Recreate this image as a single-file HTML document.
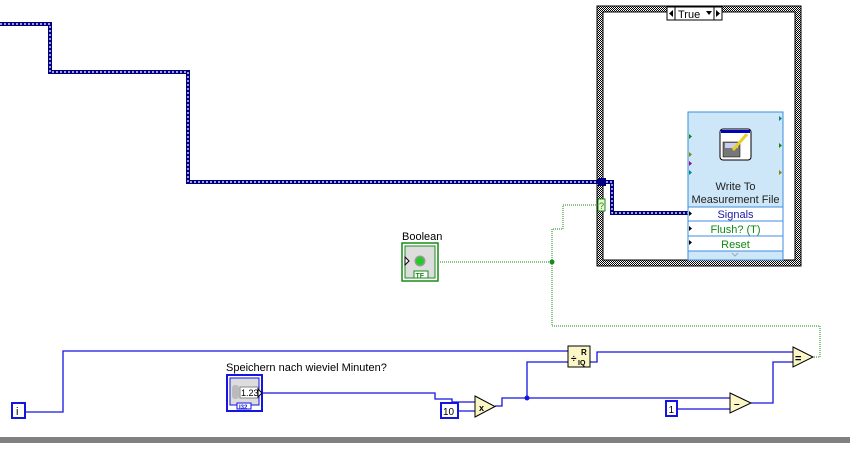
<!DOCTYPE html>
<html><head><meta charset="utf-8"><style>
html,body{margin:0;padding:0;background:#fff;width:850px;height:453px;overflow:hidden}
svg{display:block;font-family:"Liberation Sans",sans-serif}
</style></head><body>
<svg width="850" height="453" viewBox="0 0 850 453" xmlns="http://www.w3.org/2000/svg">
<defs>
<pattern id="hatch" width="2" height="2" patternUnits="userSpaceOnUse">
<rect width="2" height="2" fill="#fff"/><rect width="1" height="1" fill="#000"/><rect x="1" y="1" width="1" height="1" fill="#000"/>
</pattern>
</defs>
<!-- case structure -->
<rect x="597" y="6" width="204" height="260" fill="url(#hatch)" stroke="#000" stroke-width="1"/>
<rect x="603" y="12" width="192" height="248" fill="#fff" stroke="#000" stroke-width="1"/>
<rect x="667" y="7" width="55" height="13" fill="#fff" stroke="#000"/>
<line x1="675" y1="7" x2="675" y2="20" stroke="#000"/><line x1="714" y1="7" x2="714" y2="20" stroke="#000"/>
<polygon points="669,13.5 673,10 673,17" fill="#000"/>
<polygon points="720,13.5 716,10 716,17" fill="#000"/>
<polygon points="706,11 712,11 709,15" fill="#000"/>
<text x="678" y="18" font-size="11">True</text>
<!-- cluster wire -->
<g fill="none" stroke-linejoin="miter">
<path d="M0,24 H50 V72 H188 V182 H602 M602,182 H612 V213 H688" stroke="#000080" stroke-width="4"/>
<path d="M0,24 H50 V72 H188 V182 H602 M602,182 H612 V213 H688" stroke="#fff" stroke-width="1.2" stroke-dasharray="2,2"/>
</g>
<rect x="598" y="178" width="8" height="8" fill="#000080"/>
<!-- green dotted boolean wire -->
<path d="M440,262 H552 M552,262 V229 H563 V205 H598 M552,262 V326 H820 V357 H813" fill="none" stroke="#1a8a1a" stroke-width="1" stroke-dasharray="1,1"/>
<circle cx="552" cy="262" r="2.5" fill="#1a8a1a"/>
<rect x="598" y="199" width="7" height="12" fill="#eaf8d0" stroke="#1a8a1a"/>
<text x="599" y="209" font-size="9" fill="#1a8a1a">?</text>
<!-- write node -->
<rect x="688" y="112" width="95" height="148" fill="#cde6f8" stroke="#3d8ee0"/>
<line x1="688" y1="207" x2="783" y2="207" stroke="#3d8ee0"/>
<line x1="688" y1="221" x2="783" y2="221" stroke="#3d8ee0"/>
<line x1="688" y1="236" x2="783" y2="236" stroke="#3d8ee0"/>
<line x1="688" y1="251" x2="783" y2="251" stroke="#3d8ee0"/>
<rect x="688" y="207" width="95" height="44" fill="#fff" stroke="#3d8ee0"/>
<line x1="688" y1="221" x2="783" y2="221" stroke="#3d8ee0"/>
<line x1="688" y1="236" x2="783" y2="236" stroke="#3d8ee0"/>
<rect x="720" y="129" width="31" height="31" rx="3" fill="#fff" stroke="#000"/>
<rect x="721" y="130" width="29" height="3" fill="#0000c0"/>
<rect x="723" y="142" width="17" height="15" fill="#777" stroke="#000" stroke-width=".5"/>
<rect x="725" y="143" width="13" height="5" fill="#cce"/>
<line x1="733" y1="150" x2="747" y2="134" stroke="#e8d020" stroke-width="3"/>
<text x="735.5" y="190" font-size="11" text-anchor="middle" fill="#222">Write To</text>
<text x="735.5" y="203" font-size="11" text-anchor="middle" fill="#222">Measurement File</text>
<text x="735.5" y="218" font-size="11" text-anchor="middle" fill="#1a1aa0">Signals</text>
<text x="735.5" y="233" font-size="11" text-anchor="middle" fill="#118811">Flush? (T)</text>
<text x="735.5" y="248" font-size="11" text-anchor="middle" fill="#118811">Reset</text>
<polyline points="732,253 735,256 738,253" fill="none" stroke="#9ab"/>
<g>
<polygon points="689,211 692,213.5 689,216" fill="#000"/>
<polygon points="689,226 692,228.5 689,231" fill="#000"/>
<polygon points="689,240 692,242.5 689,245" fill="#000"/>
<polygon points="689,134 692,136.5 689,139" fill="#118811"/>
<polygon points="689,152 692,154.5 689,157" fill="#888800"/>
<polygon points="689,161 692,163.5 689,166" fill="#a000a0"/>
<polygon points="689,170 692,172.5 689,175" fill="#008888"/>
<polygon points="779,116 782,118.5 779,121" fill="#008888"/>
<polygon points="779,143 782,145.5 779,148" fill="#118811"/>
<polygon points="779,170 782,172.5 779,175" fill="#888800"/>
</g>
<!-- Boolean -->
<text x="402" y="240" font-size="11">Boolean</text>
<rect x="402" y="243" width="36" height="38" fill="#fff" stroke="#1a8a1a" stroke-width="1.5"/>
<rect x="405" y="246" width="30" height="32" fill="#ddd" stroke="#1a8a1a"/>
<circle cx="420" cy="261" r="5.5" fill="#999"/><circle cx="420" cy="261" r="4" fill="#22cc22"/>
<polygon points="405,257 409,261 405,265" fill="#fff" stroke="#000"/>
<rect x="414" y="271" width="14" height="7" fill="#fff" stroke="#1a8a1a"/>
<text x="415.5" y="278" font-size="7" fill="#1a8a1a" font-weight="bold">TF</text>
<!-- blue wires -->
<g fill="none" stroke="#1515e0" stroke-width="1.3">
<path d="M26,412 H63 V351 H568"/>
<path d="M262,393 H435 V399 H452 V402 H475"/>
<path d="M458,411 H475"/>
<path d="M495,406 H502 V398 H730"/>
<path d="M527,398 V362 H568"/>
<path d="M590,362 H597 V352 H793"/>
<path d="M677,409 H730"/>
<path d="M751,403 H773 V362 H793"/>
</g>
<circle cx="527" cy="398" r="2.5" fill="#1515e0"/>
<!-- i terminal -->
<rect x="12" y="403" width="13" height="15" fill="#fff" stroke="#1515e0" stroke-width="2"/>
<text x="16" y="415" font-size="11" fill="#000">i</text>
<!-- numeric control -->
<text x="226" y="371" font-size="11">Speichern nach wieviel Minuten?</text>
<rect x="227" y="375" width="35" height="36" fill="#fff" stroke="#1515e0" stroke-width="2"/>
<rect x="230" y="378" width="29" height="27" fill="#ddd" stroke="#1515e0"/>
<rect x="232" y="385" width="7" height="14" rx="3" fill="#bbb"/>
<rect x="240" y="387" width="18" height="11" fill="#fff" stroke="#888"/>
<text x="241" y="396" font-size="9">1.23</text>
<polygon points="258,389 262,393 258,397" fill="#fff" stroke="#000"/>
<rect x="237" y="403" width="14" height="6" fill="#fff" stroke="#1515e0"/>
<text x="239" y="409" font-size="6" fill="#1515e0" font-weight="bold">I32</text>
<!-- constants -->
<rect x="441" y="403" width="17" height="15" fill="#fff" stroke="#1515e0" stroke-width="2"/>
<text x="443" y="415" font-size="10">10</text>
<rect x="666" y="401" width="11" height="15" fill="#fff" stroke="#1515e0" stroke-width="2"/>
<text x="668.5" y="413" font-size="10">1</text>
<!-- primitives -->
<polygon points="475,396 495,406.5 475,417" fill="#fbf6c6" stroke="#000"/>
<text x="479" y="411" font-size="9" font-weight="bold">x</text>
<polygon points="730,393 751,403 730,413" fill="#fbf6c6" stroke="#000"/>
<text x="734" y="407" font-size="10" font-weight="bold">–</text>
<polygon points="793,347 813,357 793,367" fill="#fbf6c6" stroke="#000"/>
<text x="795" y="362" font-size="11" font-weight="bold">=</text>
<rect x="568" y="346" width="22" height="21" fill="#fbf6c6" stroke="#000"/>
<text x="571" y="362" font-size="10" font-weight="bold">÷</text>
<text x="581" y="355" font-size="8" font-weight="bold">R</text>
<text x="578" y="365" font-size="7" font-weight="bold">IQ</text>
<!-- bottom bar -->
<rect x="0" y="437" width="850" height="6" fill="#808080"/>
</svg>
</body></html>
